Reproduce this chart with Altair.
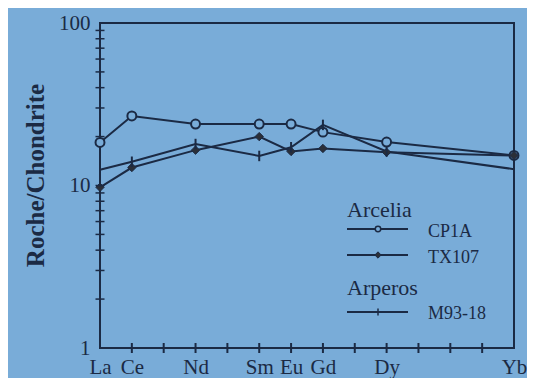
import altair as alt
import pandas as pd

# ---- data ----
elements = ["La", "Ce", "Nd", "Sm", "Eu", "Gd", "Dy", "Yb"]
atomic = [57, 58, 60, 62, 63, 64, 66, 70]
cp1a = [18.4, 26.8, 23.9, 23.9, 23.9, 21.3, 18.5, 15.3]
tx107 = [9.75, 12.9, 16.5, 20.0, 16.2, 16.9, 16.0, 15.3]
m9318 = [12.5, 14.0, 18.0, 15.2, 17.2, 23.6, 16.2, 12.6]
x_ticks = [58, 59, 60, 61, 62, 63, 64, 65, 66, 67, 68, 69]
y_ticks = [2, 3, 4, 5, 6, 7, 8, 9, 10, 20, 30, 40, 50, 60, 70, 80, 90]
y_labels = [1, 10, 100]

BG = "#79acd8"
INK = "#1b2a44"
SERIF = "Liberation Serif"

W, H = 414, 325

label_expr = "''"
for z, e in zip(atomic, elements):
    label_expr = f"datum.value == {z} ? '{e}' : ({label_expr})"

xscale = alt.Scale(domain=[57, 70], nice=False, zero=False)
yscale = alt.Scale(type="log", domain=[1, 100], nice=False)


def df_for(zs, vals):
    return pd.DataFrame({"z": [float(a) for a in zs], "v": [float(b) for b in vals]})


x_enc = alt.X("z:Q", scale=xscale,
              axis=alt.Axis(values=atomic, labelExpr=label_expr, ticks=False, domain=False,
                            grid=False, title=None, labelFont=SERIF, labelFontSize=21,
                            labelColor=INK, labelPadding=8, labelFlush=False))
y_enc = alt.Y("v:Q", scale=yscale,
              axis=alt.Axis(values=y_labels, format="d", ticks=False, domain=False, grid=False,
                            title="Roche/Chondrite", titleFont=SERIF, titleFontSize=25,
                            titleFontWeight="bold", titleColor=INK, titleX=-65, titleY=152,
                            titleAngle=-90, titleBaseline="middle", titleAlign="center",
                            labelFont=SERIF, labelFontSize=21, labelColor=INK,
                            labelPadding=10, labelFlush=False))

xs = alt.X("z:Q", scale=xscale)
ys = alt.Y("v:Q", scale=yscale)

layers = []

# series lines
for vals in (m9318, tx107, cp1a):
    layers.append(alt.Chart(df_for(atomic, vals)).mark_line(color=INK, strokeWidth=2)
                  .encode(x=x_enc, y=y_enc))

# markers
layers.append(alt.Chart(df_for(atomic, cp1a)).mark_point(
    shape="circle", filled=True, fill=BG, stroke=INK, strokeWidth=2, size=80, opacity=1)
    .encode(x=xs, y=ys))
layers.append(alt.Chart(df_for(atomic, tx107)).mark_point(
    shape="diamond", filled=True, fill="#2b2f38", stroke=INK, strokeWidth=1, size=70, opacity=1)
    .encode(x=xs, y=ys))
layers.append(alt.Chart(df_for(atomic[:-1], m9318[:-1])).mark_point(
    shape="M0,-1L0,1", filled=False, stroke=INK, strokeWidth=2, size=110, opacity=1)
    .encode(x=xs, y=ys))

# axis ticks
layers.append(alt.Chart(df_for(x_ticks, [1] * len(x_ticks))).mark_tick(
    color=INK, thickness=2, size=10, orient="vertical", opacity=1)
    .encode(x=xs, y=ys))
layers.append(alt.Chart(df_for([57] * len(y_ticks), y_ticks)).mark_tick(
    color=INK, thickness=1.5, size=9, orient="horizontal", opacity=1)
    .encode(x=xs, y=ys))

# ---- legend ----
one = alt.Data(values=[{}])


def legend_text(txt, x, y, size):
    return alt.Chart(one).mark_text(text=txt, font=SERIF, fontSize=size, color=INK,
                                    align="left", baseline="alphabetic").encode(
        x=alt.value(x), y=alt.value(y))


def legend_line(y):
    return alt.Chart(one).mark_rule(color=INK, strokeWidth=2).encode(
        x=alt.value(247), x2=alt.value(308), y=alt.value(y))


layers.append(legend_text("Arcelia", 247, 194, 22))
layers.append(legend_line(206))
layers.append(alt.Chart(one).mark_point(shape="circle", filled=True, fill=BG, stroke=INK,
                                         strokeWidth=1.5, size=30, opacity=1)
              .encode(x=alt.value(278), y=alt.value(206)))
layers.append(legend_text("CP1A", 328, 214, 18))
layers.append(legend_line(232))
layers.append(alt.Chart(one).mark_point(shape="diamond", filled=True, fill="#2b2f38", stroke=INK,
                                         strokeWidth=1, size=40, opacity=1)
              .encode(x=alt.value(278), y=alt.value(232)))
layers.append(legend_text("TX107", 328, 240, 18))
layers.append(legend_text("Arperos", 247, 272, 22))
layers.append(legend_line(289))
layers.append(alt.Chart(one).mark_point(shape="M0,-1L0,1", filled=False, stroke=INK,
                                         strokeWidth=1.5, size=50, opacity=1)
              .encode(x=alt.value(278), y=alt.value(289)))
layers.append(legend_text("M93-18", 328, 296, 18))

chart = alt.layer(*layers).properties(
    width=W, height=H,
    autosize=alt.AutoSizeParams(type="none"),
    padding={"left": 92, "top": 15, "right": 13, "bottom": 30},
    background=BG,
).configure_view(stroke=INK, strokeWidth=2)

chart.save("out.html", embed_options={"renderer": "svg", "actions": False})
